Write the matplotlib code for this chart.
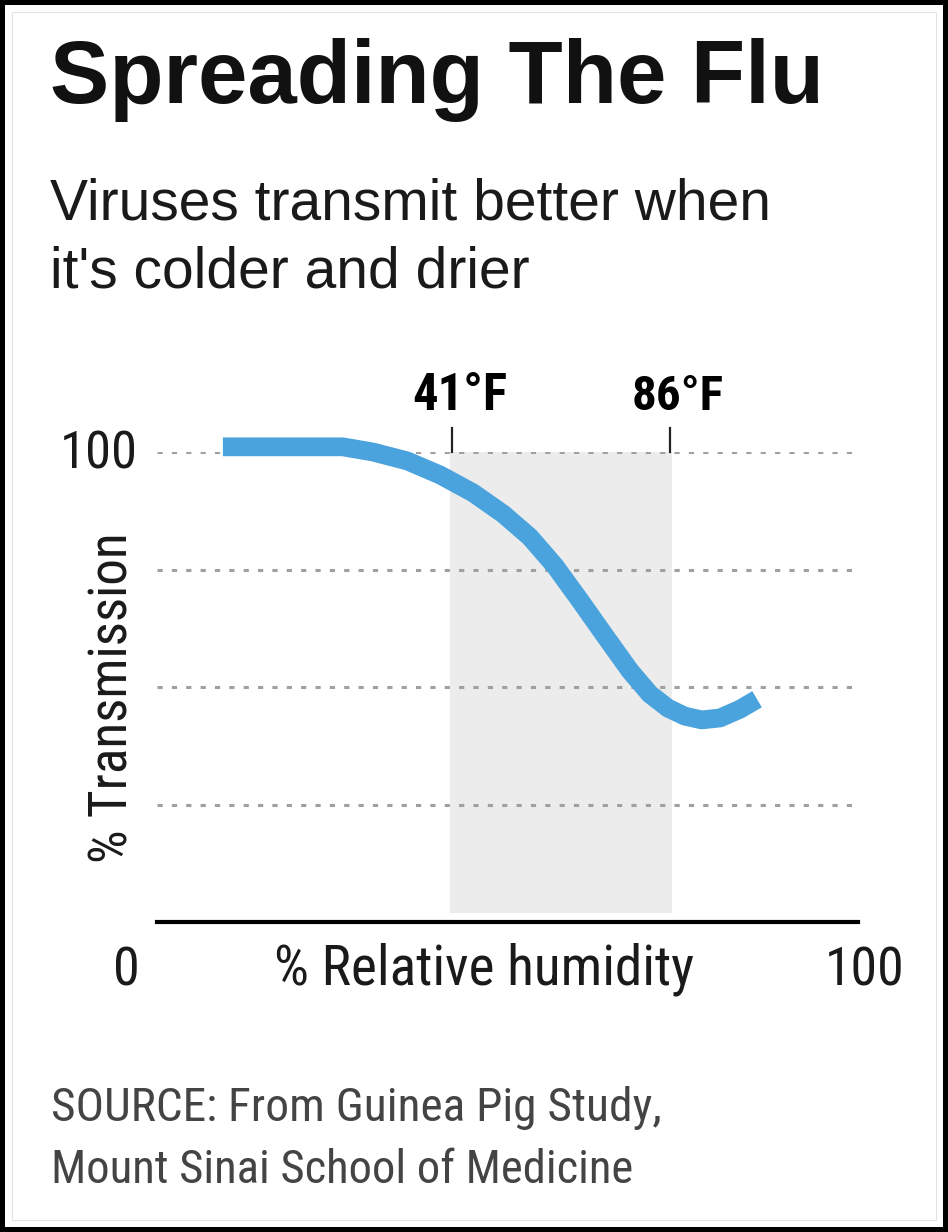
import matplotlib
matplotlib.use("Agg")
import matplotlib.pyplot as plt
from matplotlib import font_manager as fm
from matplotlib.patches import Rectangle

# curve: % relative humidity vs % transmission
humidity = [9.4, 26.5, 30.8, 35.7, 40.4, 45.1, 49.4, 53.2, 56.8, 60.3,
            63.9, 67.5, 70.3, 72.9, 75.3, 77.7, 80.3, 83.2, 85.6]
transmission = [101.1, 101.1, 100.0, 98.1, 95.1, 91.3, 86.8, 81.9, 75.7, 68.5,
                60.9, 53.4, 48.5, 45.5, 43.8, 43.0, 43.4, 45.3, 47.4]

band = (41.8, 73.5)               # shaded temperature band
temp_pos = [42.1, 73.2]
temp_labels = ["41°F", "86°F"]
grid_levels = [25, 50, 75, 100]

title = "Spreading The Flu"
subtitle = ["Viruses transmit better when", "it's colder and drier"]
source = ["SOURCE: From Guinea Pig Study,", "Mount Sinai School of Medicine"]

W, H = 948, 1232
plt.rcParams["font.family"] = "Liberation Sans"


def find_condensed(bold):
    # look for a narrow / condensed sans face among installed fonts
    prefs = ["liberation sans narrow", "arial narrow", "roboto condensed",
             "noto sans", "dejavu sans", "open sans"]
    best = None
    for f in fm.fontManager.ttflist:
        n = f.name.lower()
        path = f.fname.lower()
        cond = ("narrow" in n or "condensed" in n or "narrow" in path
                or "condensed" in path or str(f.stretch) in ("condensed", "semi-condensed"))
        if not cond or "mono" in n or "cjk" in n or "serif" in n.replace("sans serif", ""):
            continue
        if f.style != "normal" or "italic" in path:
            continue
        w = f.weight if isinstance(f.weight, int) else fm.weight_dict.get(f.weight, 400)
        if "semicondensed" in path or "extracondensed" in path:
            continue
        wdiff = abs(w - (700 if bold else 400))
        rank = next((i for i, p in enumerate(prefs) if n.startswith(p)), len(prefs))
        key = (rank, wdiff)
        if best is None or key < best[0]:
            best = (key, f.fname)
    if best is None or best[0][1] > 150:
        return fm.FontProperties(family="Liberation Sans",
                                 weight="bold" if bold else "normal")
    return fm.FontProperties(fname=best[1])


cond_reg = find_condensed(False)
cond_bold = find_condensed(True)


def px(x, y):
    return x / W, 1 - y / H


fig = plt.figure(figsize=(W / 100, H / 100), dpi=100)
fig.patch.set_facecolor("white")
renderer = fig.canvas.get_renderer()


def fit(t, size, target, vertical=False):
    # scale the font size so the text spans the width seen in the reference
    t.set_fontsize(size)
    bb = t.get_window_extent(renderer)
    span = bb.height if vertical else bb.width
    t.set_fontsize(size * target / span)
    return t


ax = fig.add_axes([157 / W, 1 - 922 / H, 701 / W, 470 / H])
ax.set_xlim(0, 100)
ax.set_ylim(0, 100)
for s in ["top", "left", "right"]:
    ax.spines[s].set_visible(False)
ax.spines["bottom"].set_linewidth(3)
ax.spines["bottom"].set_color("black")
ax.set_xticks([])
ax.set_yticks([])

ax.axvspan(band[0], band[1], ymin=0.02, ymax=1.0, color="#ececec", lw=0, zorder=0)
for g in grid_levels:
    ax.axhline(g, color="#a0a0a0", lw=2.2, dashes=(1.7, 3.0), zorder=1)

ax.plot(humidity, transmission, color="#4aa3dc", lw=13.5,
        solid_capstyle="butt", solid_joinstyle="round", clip_on=False, zorder=3)

temp_width = [95, 92]
for xp, lab, tw in zip(temp_pos, temp_labels, temp_width):
    ax.plot([xp, xp], [100, 105], color="#222222", lw=1.6, clip_on=False, zorder=2)
    t = ax.text(xp + 1.1, 108.9, lab, ha="center", va="baseline",
                fontproperties=cond_bold, clip_on=False)
    fit(t, 38, tw)

t = ax.text(-2.7, 96.5, "100", ha="right", va="baseline",
            fontproperties=cond_reg, color="#1a1a1a")
fit(t, 41, 78)

# titles and labels
t = fig.text(*px(50, 103), title, fontweight="bold", va="baseline", color="#111111")
fit(t, 62, 775)
fig.text(*px(50, 220), subtitle[0], fontsize=41, va="baseline", color="#1a1a1a")
fig.text(*px(50, 288), subtitle[1], fontsize=41, va="baseline", color="#1a1a1a")

t = fig.text(*px(113, 698), "% Transmission", rotation=90, ha="center", va="center",
             fontproperties=cond_reg, color="#1a1a1a")
fit(t, 41, 330, vertical=True)
t = fig.text(*px(126, 985), "0", ha="center", va="baseline",
             fontproperties=cond_reg, color="#1a1a1a")
fit(t, 41, 27)
t = fig.text(*px(865, 985), "100", ha="center", va="baseline",
             fontproperties=cond_reg, color="#1a1a1a")
fit(t, 41, 80)
t = fig.text(*px(274, 985), "% Relative humidity", ha="left", va="baseline",
             fontproperties=cond_reg, color="#1a1a1a")
fit(t, 41, 420)

t = fig.text(*px(51, 1121), source[0], va="baseline",
             fontproperties=cond_reg, color="#444444")
fit(t, 36, 610)
t = fig.text(*px(51, 1183), source[1], va="baseline",
             fontproperties=cond_reg, color="#444444")
fit(t, 36, 582)

# frame
fig.patches.append(Rectangle((0, 0), 1, 1, transform=fig.transFigure, fill=False,
                             lw=7.2, edgecolor="black"))
fig.patches.append(Rectangle((12 / W, 12 / H), 1 - 24 / W, 1 - 24 / H,
                             transform=fig.transFigure, fill=False, lw=0.8,
                             edgecolor="#e4e4e4"))

fig.savefig("out.png", dpi=100)
